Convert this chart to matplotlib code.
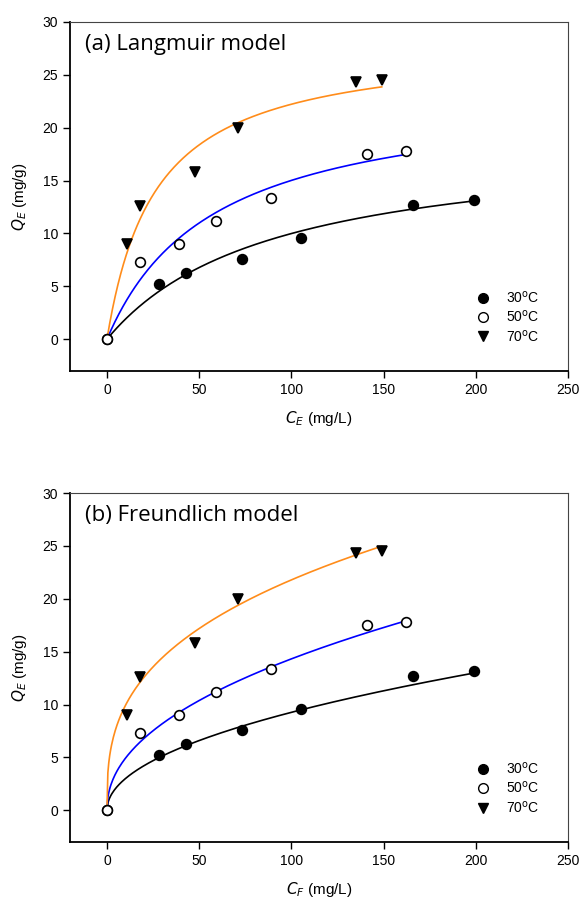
import numpy as np
import matplotlib.pyplot as plt
from matplotlib.lines import Line2D

# measured data (C_E in mg/L, Q_E in mg/g)
ce_30 = [0, 28, 43, 73, 105, 166, 199]
qe_30 = [0, 5.2, 6.3, 7.6, 9.6, 12.7, 13.2]
ce_50 = [0, 18, 39, 59, 89, 141, 162]
qe_50 = [0, 7.3, 9.0, 11.2, 13.4, 17.5, 17.8]
ce_70 = [11, 18, 48, 71, 135, 149]
qe_70 = [9.0, 12.6, 15.8, 20.0, 24.3, 24.5]

temps = ['30', '50', '70']
# fitted parameters
langmuir_qm = [19.0, 23.7, 28.1]
langmuir_k = [0.0111, 0.0173, 0.0378]
freund_kf = [0.97, 1.69, 4.51]
freund_n_inv = [0.49, 0.464, 0.342]
fit_colors = ['black', '#0000FF', '#FF8C1A']

plt.rcParams['font.family'] = ['Liberation Sans', 'DejaVu Sans']

fig = plt.figure(figsize=(5.79, 9.0), dpi=100)
ax1 = fig.add_axes([0.121, 0.5878, 0.860, 0.3878])
ax2 = fig.add_axes([0.121, 0.0644, 0.860, 0.3878])

series = [(ce_30, qe_30), (ce_50, qe_50), (ce_70, qe_70)]
mstyle = [dict(marker='o', mfc='black', mec='black'),
          dict(marker='o', mfc='white', mec='black'),
          dict(marker='v', mfc='black', mec='black')]


def langmuir(c, qm, k):
    return qm * k * c / (1 + k * c)


def freundlich(c, kf, ninv):
    return kf * c ** ninv


for ax, model, title, xlab in [(ax1, 'L', '(a) Langmuir model', '$C_E$ (mg/L)'),
                               (ax2, 'F', '(b) Freundlich model', '$C_F$ (mg/L)')]:
    for i, (ce, qe) in enumerate(series):
        cc = np.linspace(0, max(ce), 300)
        if model == 'L':
            qq = langmuir(cc, langmuir_qm[i], langmuir_k[i])
        else:
            qq = freundlich(cc, freund_kf[i], freund_n_inv[i])
        ax.plot(cc, qq, color=fit_colors[i], lw=1.2, zorder=2)
    for i, (ce, qe) in enumerate(series):
        ax.plot(ce, qe, ls='none', ms=7, mew=1.2, zorder=3, **mstyle[i])

    ax.set_xlim(-20, 250)
    ax.set_ylim(-3, 30)
    ax.set_xticks([0, 50, 100, 150, 200, 250])
    ax.set_yticks([0, 5, 10, 15, 20, 25, 30])
    ax.tick_params(direction='out', length=5, width=1, labelsize=10,
                   top=False, right=False)
    ax.spines['left'].set_linewidth(1.3)
    ax.spines['bottom'].set_linewidth(1.3)
    ax.spines['top'].set_color('#444444')
    ax.spines['right'].set_color('#444444')
    ax.set_xlabel(xlab, fontsize=11, labelpad=9)
    ax.set_ylabel('$Q_E$ (mg/g)', fontsize=11, labelpad=10)
    ax.text(0.03, 0.935, title, transform=ax.transAxes, fontsize=16,
            family=['Open Sans', 'DejaVu Sans'], va='center', ha='left')

    handles = [Line2D([], [], ls='none', ms=7, **mstyle[i]) for i in range(3)]
    labels = [t + '$^\\mathrm{o}$C' for t in temps]
    ax.legend(handles, labels, loc='center left', bbox_to_anchor=(0.79, 0.155),
              frameon=False, fontsize=10, handletextpad=1.2, labelspacing=0.25,
              handlelength=1.0)

fig.savefig('out.png', dpi=100)
